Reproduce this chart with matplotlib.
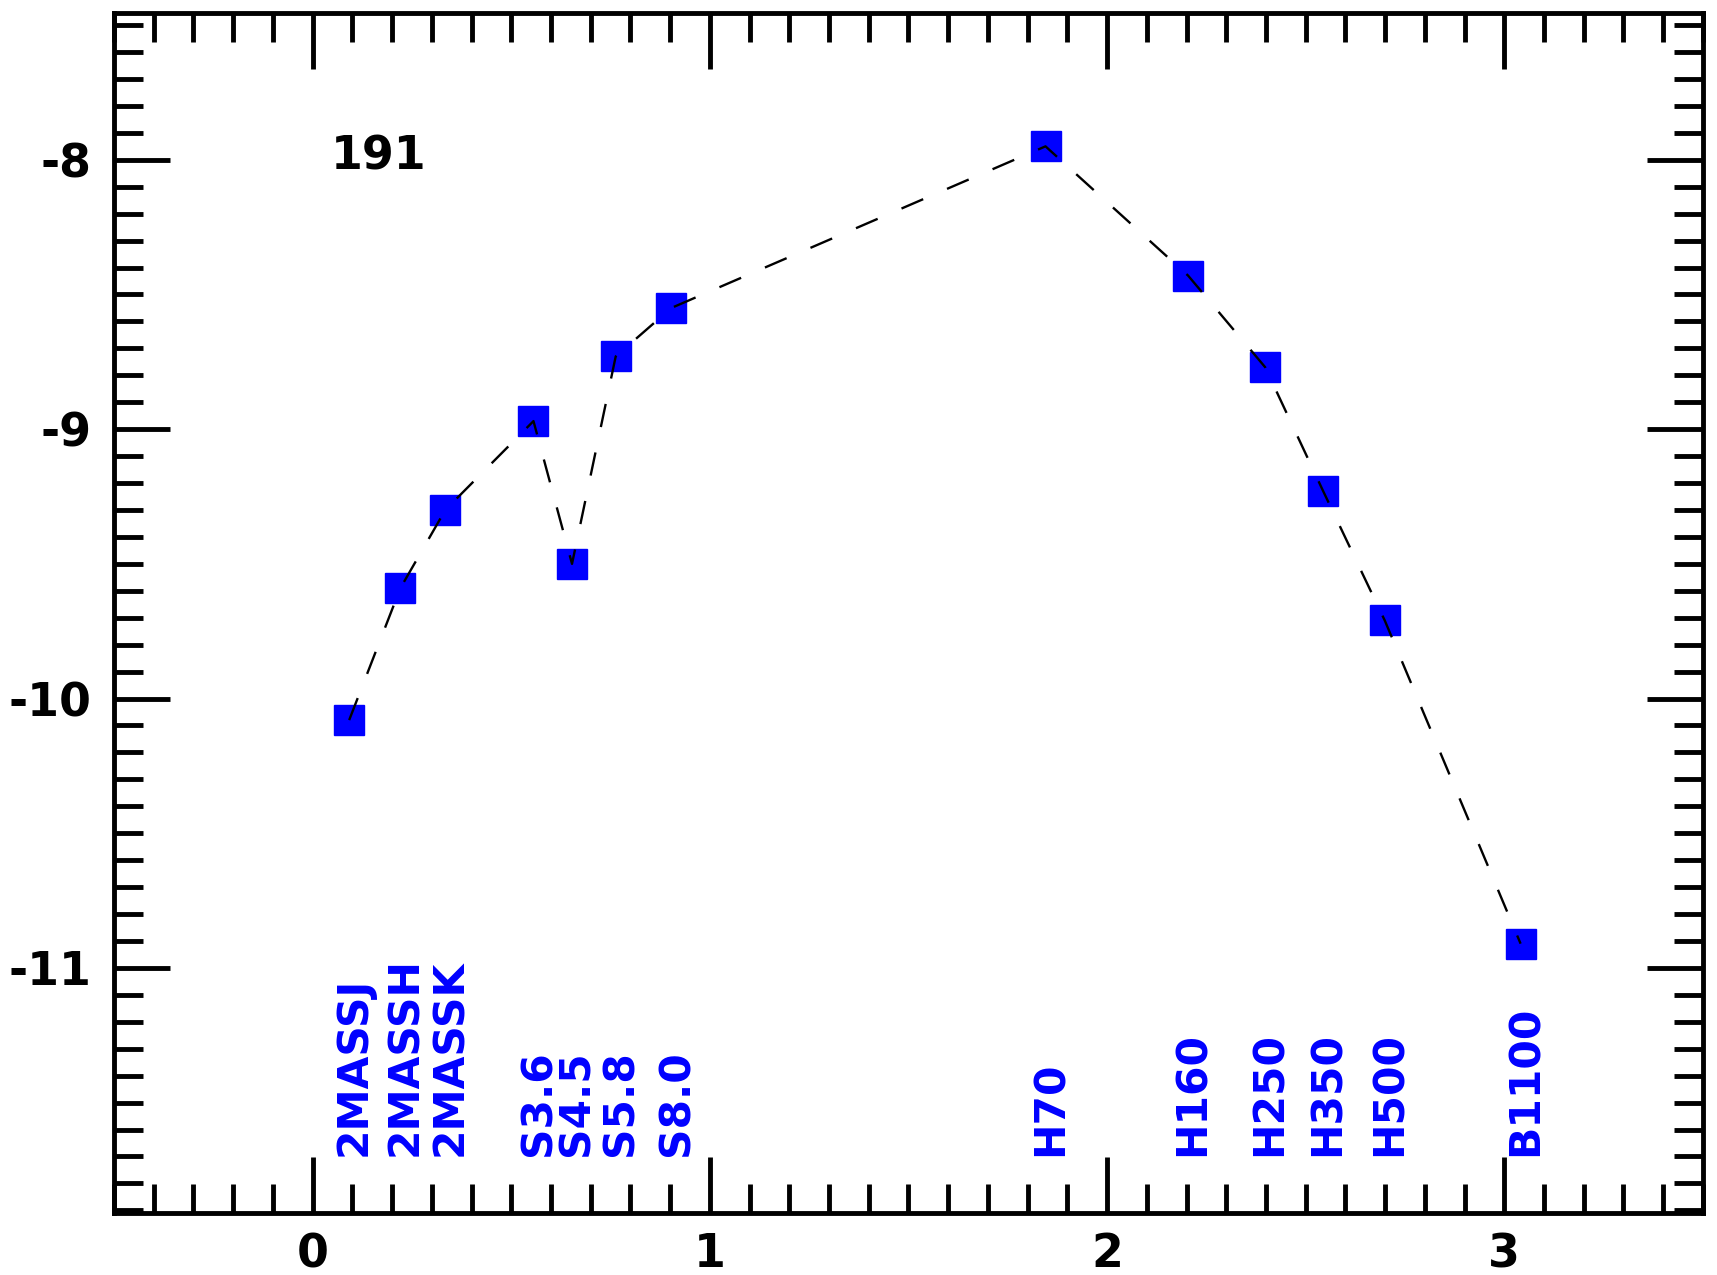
import numpy as np
import matplotlib
matplotlib.use("Agg")
import matplotlib.pyplot as plt
from matplotlib.ticker import MultipleLocator

# data: log10 wavelength (micron) vs log flux
bands = ["2MASSJ", "2MASSH", "2MASSK", "S3.6", "S4.5", "S5.8", "S8.0",
         "H70", "H160", "H250", "H350", "H500", "B1100"]
logwav = [0.092, 0.221, 0.334, 0.556, 0.653, 0.763, 0.903,
          1.845, 2.204, 2.398, 2.544, 2.699, 3.041]
logflux = [-10.08, -9.59, -9.30, -8.97, -9.50, -8.73, -8.55,
           -7.95, -8.43, -8.77, -9.23, -9.71, -10.91]
source_id = "191"

plt.rcParams['font.family'] = ['DejaVu Sans']
plt.rcParams['font.weight'] = 'bold'
plt.rcParams['axes.unicode_minus'] = False

fig = plt.figure(figsize=(17.17, 12.75), dpi=100)
ax = fig.add_axes([0.0664, 0.0486, 0.9918 - 0.0664, 0.9898 - 0.0486])

ax.plot(logwav, logflux, linestyle='none', marker='s', markersize=21,
        color='blue', zorder=2)
ax.plot(logwav, logflux, color='black', lw=1.7, dashes=(10, 11), zorder=3)

for b, x in zip(bands, logwav):
    ax.text(x + 0.012, -11.70, b, rotation=90, ha='center', va='bottom',
            color='blue', fontsize=30.5, fontweight='bold')

ax.text(0.045, -7.99, source_id, ha='left', va='center', fontsize=33,
        fontweight='bold')

ax.set_xlim(-0.5, 3.5)
ax.set_ylim(-11.91, -7.455)
ax.xaxis.set_major_locator(MultipleLocator(1))
ax.xaxis.set_minor_locator(MultipleLocator(0.1))
ax.yaxis.set_major_locator(MultipleLocator(1))
ax.yaxis.set_minor_locator(MultipleLocator(0.1))

for s in ax.spines.values():
    s.set_linewidth(3.5)
ax.tick_params(which='both', direction='in', top=True, right=True, width=3.5)
ax.tick_params(which='major', length=40)
ax.tick_params(which='minor', length=21)
ax.tick_params(axis='x', which='major', pad=14, labelsize=33)
ax.tick_params(axis='y', which='major', pad=16, labelsize=33)
for lab in ax.get_xticklabels() + ax.get_yticklabels():
    lab.set_fontweight('bold')

fig.savefig("out.png", dpi=100)
